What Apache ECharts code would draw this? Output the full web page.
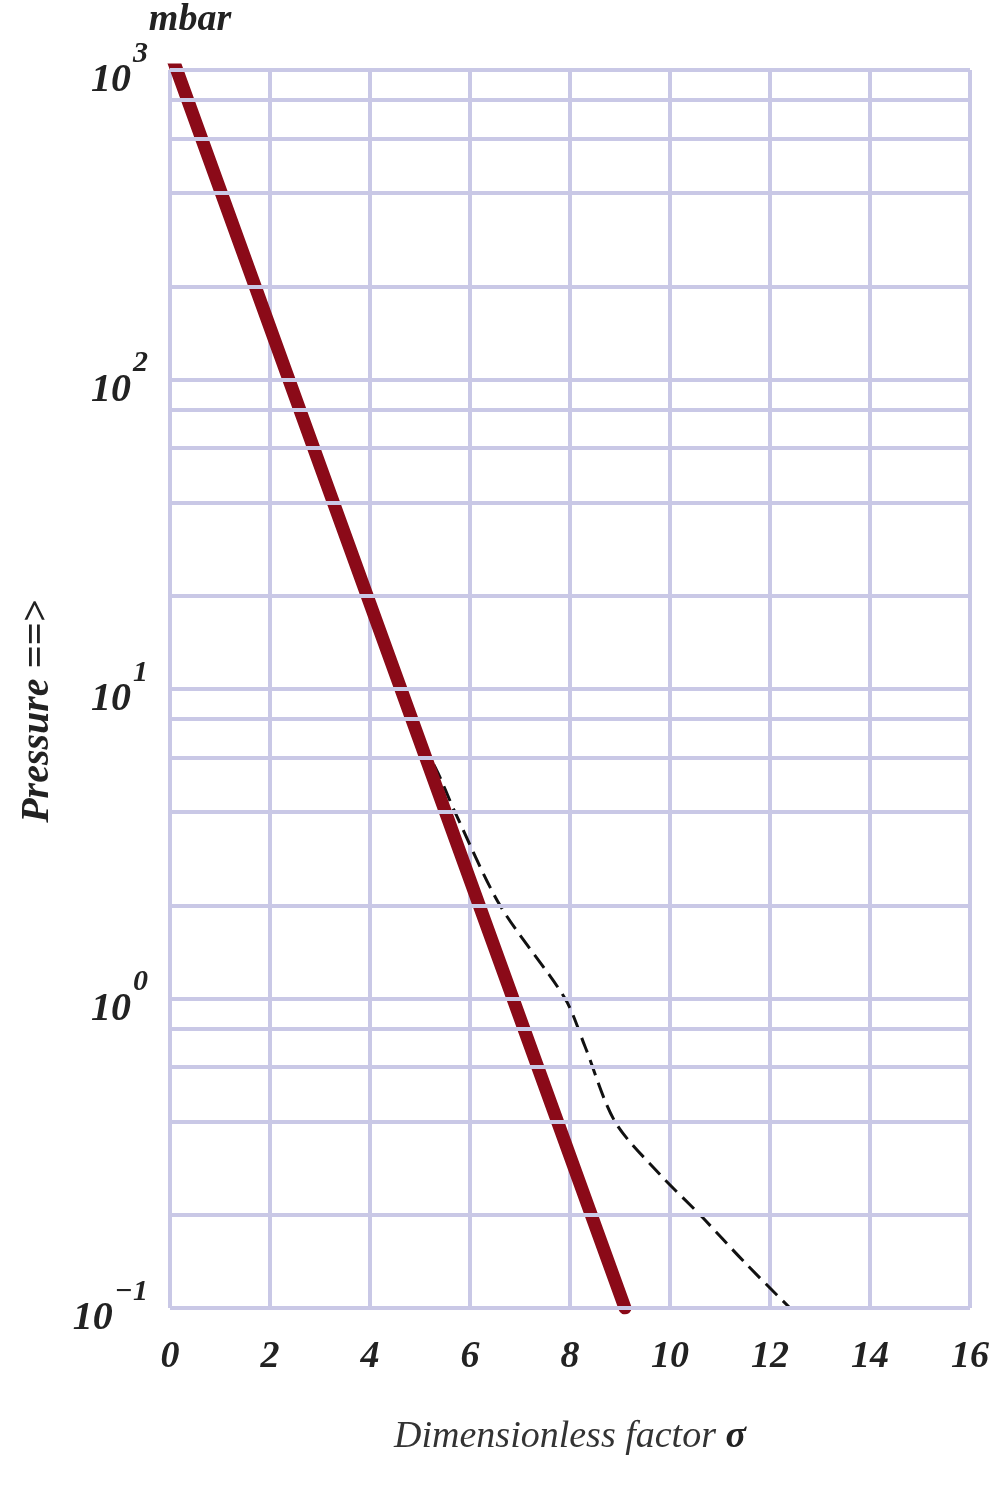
<!DOCTYPE html>
<html>
<head>
<meta charset="utf-8">
<script src="https://cdn.jsdelivr.net/npm/echarts@6/dist/echarts.min.js"></script>
<style>
  html, body { margin: 0; padding: 0; background: #fff; }
  #chart { width: 1004px; height: 1500px; }
</style>
</head>
<body>
<div id="chart"></div>
<script>
// 数据
const redLine = [[0, 1150], [9.1, 0.1]];
const dashedLine = [[5.0, 6.6], [5.3, 5.6], [5.7, 4], [6.6, 2], [7.9, 1], [8.3, 0.7], [8.9, 0.4], [9.8, 0.27], [10.6, 0.2], [11.5, 0.14], [12.4, 0.1]];
const gridValues = [1000, 800, 600, 400, 200, 100, 80, 60, 40, 20, 10, 8, 6, 4, 2, 1, 0.8, 0.6, 0.4, 0.2, 0.1];
const decadeLabels = { 1000: '3', 100: '2', 10: '1', 1: '0', 0.1: '−1' };

const gridColor = '#c9c8e6';
const serif = '"Liberation Serif", "DejaVu Serif", serif';

const chart = echarts.init(document.getElementById('chart'));

const option = {
    backgroundColor: '#fff',
    animation: false,
    grid: { left: 170, right: 34, top: 70, bottom: 192 },
    xAxis: {
        type: 'value',
        min: 0,
        max: 16,
        interval: 2,
        name: 'Dimensionless factor {b|σ}',
        nameLocation: 'middle',
        nameGap: 110,
        nameTextStyle: {
            fontFamily: serif, fontStyle: 'italic', fontSize: 38, color: '#333',
            rich: { b: { fontFamily: serif, fontWeight: 'bold', fontSize: 38, color: '#222' } }
        },
        axisLine: { show: false },
        axisTick: { show: false },
        axisLabel: {
            margin: 30,
            fontFamily: serif, fontStyle: 'italic', fontWeight: 'bold', fontSize: 38, color: '#222'
        },
        splitLine: { show: true, lineStyle: { color: gridColor, width: 4 } }
    },
    yAxis: {
        type: 'log',
        min: 0.1,
        max: 1000,
        logBase: 10,
        name: 'mbar',
        nameLocation: 'end',
        nameGap: 4,
        nameTextStyle: {
            fontFamily: serif, fontStyle: 'italic', fontWeight: 'bold', fontSize: 38, color: '#222',
            align: 'center', padding: [0, 0, 0, 40]
        },
        axisLine: { show: false },
        axisTick: { show: false },
        splitLine: { show: false },
        axisLabel: {
            margin: 22,
            formatter: function (v) {
                const key = Object.keys(decadeLabels).find(k => Math.abs(Number(k) - v) < v * 1e-6);
                return key ? '{b|10}{s|' + decadeLabels[key] + '}' : '';
            },
            rich: {
                b: { fontFamily: serif, fontStyle: 'italic', fontWeight: 'bold', fontSize: 40, color: '#222', padding: [22, 0, 0, 0] },
                s: { fontFamily: serif, fontStyle: 'italic', fontWeight: 'bold', fontSize: 30, color: '#222', verticalAlign: 'top', padding: [0, 0, 20, 2] }
            }
        }
    },
    graphic: [{
        type: 'text',
        left: 18,
        top: 600,
        rotation: Math.PI / 2,
        style: {
            text: 'Pressure ==>',
            fontFamily: serif, fontStyle: 'italic', fontWeight: 'bold', fontSize: 40, fill: '#222',
            align: 'center', verticalAlign: 'middle'
        }
    }],
    series: [
        {
            type: 'line',
            data: [],
            silent: true,
            markLine: {
                symbol: 'none',
                silent: true,
                label: { show: false },
                lineStyle: { color: gridColor, width: 4, type: 'solid' },
                data: gridValues.map(v => ({ yAxis: v }))
            }
        },
        {
            type: 'line',
            data: dashedLine,
            smooth: 0.3,
            symbol: 'none',
            lineStyle: { color: '#111', width: 3, type: [16, 8] },
            z: 3
        },
        {
            type: 'line',
            data: redLine,
            symbol: 'none',
            lineStyle: { color: '#8b0a18', width: 13, cap: 'round' },
            z: 4
        }
    ]
};
chart.setOption(option);
</script>
</body>
</html>
